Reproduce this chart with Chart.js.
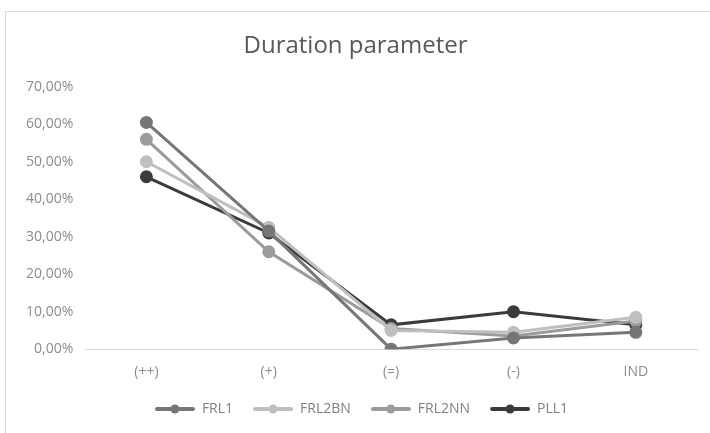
<!DOCTYPE html>
<html><head><meta charset="utf-8">
<script src="https://cdn.jsdelivr.net/npm/chart.js@4/dist/chart.umd.min.js"></script>
<style>
html,body{margin:0;padding:0;background:#fff;}
#wrap{position:relative;width:710px;height:433px;overflow:hidden;}
#frame{position:absolute;left:5px;top:11px;width:720px;height:440px;border-left:1px solid #d9d9d9;border-top:1px solid #d9d9d9;}
canvas{position:absolute;left:0;top:0;}
</style></head>
<body><div id="wrap"><div id="frame"></div><canvas id="c" width="710" height="433"></canvas></div>
<script>
const categories = ["(++)", "(+)", "(=)", "(-)", "IND"];
const FRL1   = [60.5, 31.5, 0.0, 3.0, 4.5];
const FRL2BN = [50.0, 32.5, 5.0, 4.5, 8.5];
const FRL2NN = [56.0, 26.0, 5.5, 3.5, 7.5];
const PLL1   = [46.0, 31.0, 6.5, 10.0, 6.5];
const seriesNames = ["FRL1", "FRL2BN", "FRL2NN", "PLL1"];
const colors = ["#767676", "#bfbfbf", "#9b9b9b", "#3b3b3b"];
const seriesData = [FRL1, FRL2BN, FRL2NN, PLL1];

const ICON_MARGIN = 12, ICON_LEN = 40;
function legendIcon(color){
  const cv=document.createElement('canvas'); cv.width=ICON_MARGIN+ICON_LEN; cv.height=10;
  const x=cv.getContext('2d');
  const x0 = ICON_MARGIN;
  x.strokeStyle=color; x.lineWidth=4; x.lineCap='round';
  x.beginPath(); x.moveTo(x0+2,5); x.lineTo(x0+ICON_LEN-2,5); x.stroke();
  x.fillStyle=color; x.beginPath(); x.arc(x0+ICON_LEN/2,5,4.5,0,Math.PI*2); x.fill();
  return cv;
}
const icons = colors.map(legendIcon);
const FONT = "'Open Sans', 'Noto Sans', sans-serif";

new Chart(document.getElementById('c'), {
  type: 'line',
  data: {
    labels: categories,
    datasets: seriesNames.map((n,i)=>({
      label: n, data: seriesData[i],
      borderColor: colors[i], backgroundColor: colors[i],
      borderWidth: 3, pointRadius: 5, pointHoverRadius: 5,
      pointBackgroundColor: colors[i], pointBorderColor: colors[i],
      tension: 0, fill: false
    }))
  },
  options: {
    responsive: false, animation: false,
    layout: { padding: { left: 14, right: 13, top: 24, bottom: 7 } },
    plugins: {
      title: { display: true, text: 'Duration parameter', color: '#595959',
        font: { family: FONT, size: 24, weight: 'normal' }, padding: { top: 8, bottom: 26 } },
      legend: { position: 'bottom',
        labels: { color: '#7f7f7f', font: { family: FONT, size: 14 },
          usePointStyle: true, pointStyleWidth: ICON_MARGIN+ICON_LEN, boxWidth: ICON_MARGIN+ICON_LEN, boxHeight: 10, padding: 8,
          generateLabels: (chart)=>{
            const items = Chart.defaults.plugins.legend.labels.generateLabels(chart);
            items.forEach((it,i)=>{ it.pointStyle = icons[i]; });
            return items;
          } } },
      tooltip: { enabled: false }
    },
    scales: {
      x: { offset: true,
        grid: { display: false, drawTicks: false },
        border: { display: true, color: '#d9d9d9', width: 1 },
        ticks: { color: '#8c8c8c', font: { family: FONT, size: 14 }, padding: 14 } },
      y: { min: 0, max: 70,
        grid: { display: false, drawTicks: false },
        border: { display: false },
        ticks: { stepSize: 10, color: '#8c8c8c', font: { family: FONT, size: 14 }, padding: 12,
          callback: v => v.toFixed(2).replace('.', ',') + '%' } }
    }
  }
});
</script></body></html>
